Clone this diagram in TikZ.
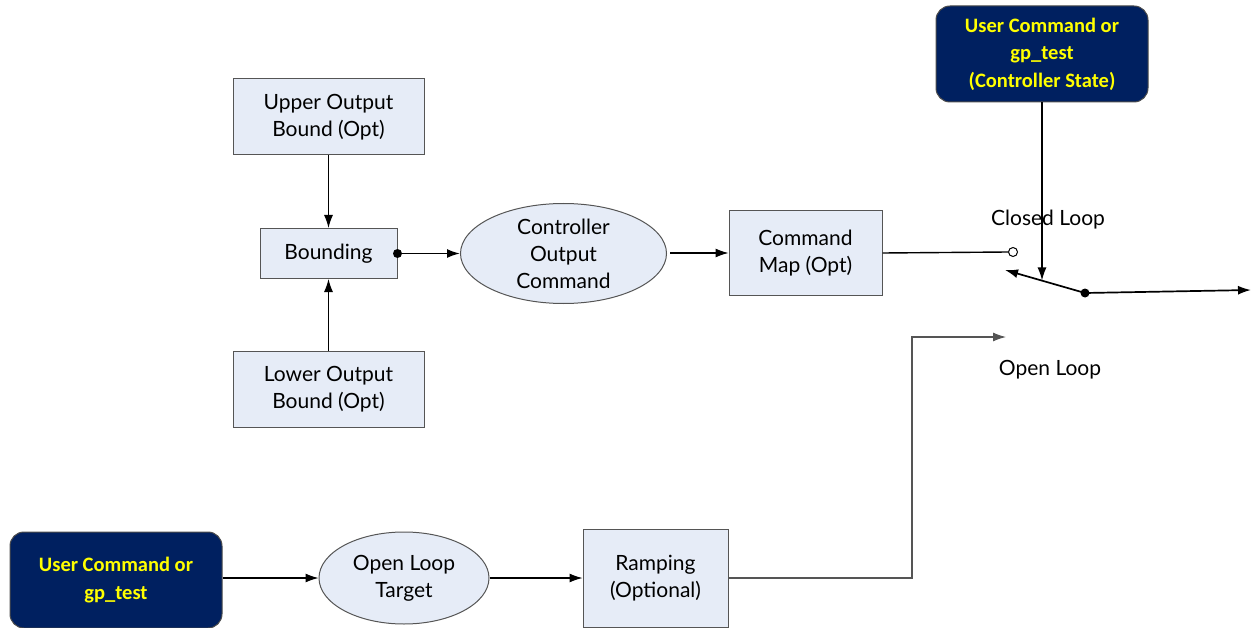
\documentclass[tikz,border=0pt]{standalone}
\usepackage{fontspec}
\setmainfont{Lato}
\newfontfamily\darkfont{Carlito}
\usetikzlibrary{shapes.geometric,arrows.meta}
\definecolor{boxfill}{HTML}{E6ECF7}
\definecolor{navy}{HTML}{002060}
\definecolor{yel}{HTML}{FFFF00}
\definecolor{edge}{HTML}{555555}
\tikzset{
  blk/.style={draw=edge, fill=boxfill, line width=1pt, align=center, inner sep=0pt,
    font=\fontsize{21}{27}\selectfont},
  ell/.style={blk, ellipse},
  darkbox/.style={draw=black!70, fill=navy, rounded corners=14pt, line width=1pt, align=center,
    inner sep=0pt, text=yel, font=\darkfont\bfseries\fontsize{20.5}{27.5}\selectfont},
  arr/.style={-{Latex[length=13pt,width=9pt]}, line width=1.1pt},
  lbl/.style={font=\fontsize{21}{27}\selectfont}
}
\begin{document}
\begin{tikzpicture}[x=1pt,y=-1pt]
\useasboundingbox (0,0) rectangle (1252,628);
% top-left blocks
\node[blk, minimum width=191pt, minimum height=76pt] (up) at (328.5,117) {Upper Output\\Bound (Opt)};
\node[blk, minimum width=137pt, minimum height=50pt] (bd) at (328.5,253.5) {Bounding};
\node[blk, minimum width=191pt, minimum height=76pt] (lo) at (328.5,389) {Lower Output\\Bound (Opt)};
\node[ell, minimum width=206pt, minimum height=100pt] (co) at (563.5,253.5) {Controller\\Output\\Command};
\node[blk, minimum width=153pt, minimum height=85pt] (cm) at (805.5,253) {Command\\Map (Opt)};
% dark boxes
\node[darkbox, minimum width=212pt, minimum height=96pt] (ub) at (1042,54) {User Command or\\gp\_test\\(Controller State)};
\node[darkbox, minimum width=212pt, minimum height=96pt] (lb) at (116,580) {User Command or\\gp\_test};
% bottom row
\node[ell, minimum width=170pt, minimum height=92pt] (ol) at (404,578) {Open Loop\\Target};
\node[blk, minimum width=145pt, minimum height=98pt] (rp) at (655.5,578) {Ramping\\(Optional)};
% switch
\node[draw, circle, fill=white, line width=1pt, inner sep=0pt, minimum size=9pt] (cl) at (1013,252) {};
\coordinate (sw) at (1085,293);
\coordinate (tip) at (1005,270);
\coordinate (out) at (1251,290);
\coordinate (bend) at (912,337);
\coordinate (olc) at (1006,337);
\node[lbl] (cltxt) at (1048,220) {Closed Loop};
\node[lbl] (oltxt) at (1050,370) {Open Loop};
% connectors
\draw[arr] (up) -- (bd);
\draw[arr] (lo) -- (bd);
\fill (bd.east) circle (4.5pt);
\draw[arr, line width=1.7pt] (bd.east) -- (co.west);
\draw[arr, shorten <=3pt] (co.east |- cm.west) -- (cm.west);
\draw[line width=1.4pt] (cm.east) -- (cl.west);
\draw[arr, line width=1.7pt] (sw) -- (tip);
\draw[arr, line width=1.7pt] (sw) -- (out);
\fill (sw) circle (4.5pt);
\draw[arr, line width=1.5pt] (ub.south) -- ++(0,178);
\draw[arr] (lb.east |- ol.west) -- (ol.west);
\draw[arr] (ol.east) -- (rp.west);
\draw[arr, draw=edge] (rp.east) -| (bend) -- (olc);
\end{tikzpicture}
\end{document}
